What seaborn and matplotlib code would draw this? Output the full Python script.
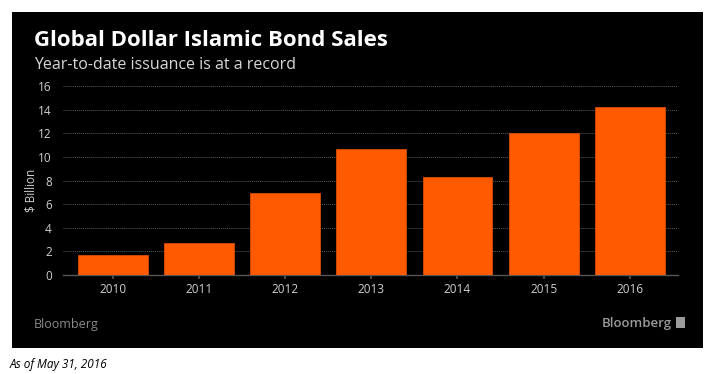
import matplotlib.pyplot as plt
import pandas as pd
import seaborn as sns
from matplotlib.patches import Rectangle

years = ["2010", "2011", "2012", "2013", "2014", "2015", "2016"]
sales = [1.7, 2.7, 6.9, 10.7, 8.3, 12.0, 14.2]
y_ticks = [0, 2, 4, 6, 8, 10, 12, 14, 16]

df = pd.DataFrame({"year": years, "sales": sales})

sns.set_theme(style="dark")
plt.rcParams["font.family"] = ["Open Sans", "DejaVu Sans"]

fig = plt.figure(figsize=(7.18, 3.74), dpi=100)
fig.patch.set_facecolor("white")

# black panel behind everything
fig.patches.append(Rectangle((12 / 718, 1 - 348 / 374), 691 / 718, 336 / 374,
                             transform=fig.transFigure, facecolor="black",
                             edgecolor="none", zorder=-10))

ax = fig.add_axes([63 / 718, 1 - 275 / 374, 615 / 718, 189 / 374])
ax.set_facecolor("black")

sns.barplot(data=df, x="year", y="sales", color="#ff5a00", saturation=1,
            width=0.81, edgecolor="#d94d00", linewidth=0.6, ax=ax, zorder=3)

ax.set_ylim(0, 16)
ax.set_xlim(-0.58, 6.56)
ax.set_yticks(y_ticks)
ax.yaxis.grid(True, color="#5a5a5a", linestyle=(0, (1, 1)), linewidth=0.7)
ax.xaxis.grid(False)
for s in ["top", "right", "left"]:
    ax.spines[s].set_visible(False)
ax.spines["bottom"].set_color("#555555")
ax.spines["bottom"].set_linewidth(1)
ax.tick_params(axis="y", colors="#d0d0d0", labelsize=8.5, length=0, pad=8)
ax.tick_params(axis="x", colors="#d0d0d0", labelsize=8.5, length=3, pad=3,
               color="#555555", bottom=True)
ax.set_xlabel("")
ax.set_ylabel("$ Billion", color="#d0d0d0", fontsize=8.5)
ax.yaxis.set_label_coords(-0.041, 0.45)

fig.text(34 / 718, 1 - 46 / 374, "Global Dollar Islamic Bond Sales",
         color="white", fontsize=16, fontweight="bold", va="baseline")
fig.text(34 / 718, 1 - 69 / 374, "Year-to-date issuance is at a record",
         color="#d8d8d8", fontsize=11.5, va="baseline")
fig.text(34 / 718, 1 - 328 / 374, "Bloomberg", color="#8a8a8a",
         fontsize=9, va="baseline")
fig.text(672 / 718, 1 - 327 / 374, "Bloomberg", color="#9a9a9a",
         fontsize=9.5, fontweight="semibold", va="baseline", ha="right")
fig.patches.append(Rectangle((676 / 718, 1 - 328 / 374), 9 / 718, 11 / 374,
                             transform=fig.transFigure, facecolor="#9a9a9a",
                             edgecolor="none"))
fig.text(10 / 718, 1 - 368 / 374, "As of May 31, 2016", color="black",
         fontsize=8.5, style="italic", va="baseline")

fig.savefig("out.png", dpi=100, facecolor=fig.get_facecolor())
